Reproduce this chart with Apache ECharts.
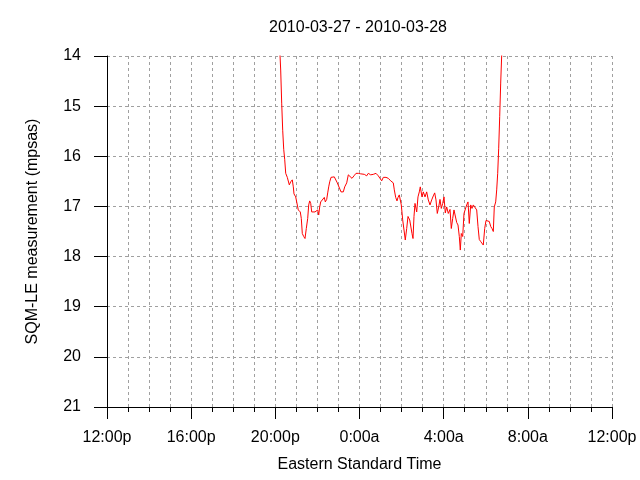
<!DOCTYPE html>
<html>
<head>
<meta charset="utf-8">
<script src="https://cdn.jsdelivr.net/npm/echarts@6/dist/echarts.min.js"></script>
<style>html,body{margin:0;padding:0;background:#fff;}#chart{width:640px;height:480px;}</style>
</head>
<body>
<div id="chart"></div>
<script>
// hours after 12:00p on 2010-03-27
const hours = [8.20,8.222,8.255,8.302,8.350,8.398,8.445,8.493,8.569,8.664,8.730,8.806,8.854,8.887,8.968,9.044,9.091,9.139,9.186,9.234,9.282,9.348,9.410,9.472,9.538,9.586,9.633,9.681,9.728,9.804,9.885,9.966,10.013,10.061,10.108,10.156,10.251,10.327,10.375,10.441,10.489,10.536,10.584,10.646,10.726,10.802,10.883,10.945,11.040,11.121,11.230,11.297,11.392,11.468,11.548,11.643,11.738,11.834,11.943,12.057,12.152,12.228,12.342,12.418,12.532,12.656,12.784,12.893,12.974,13.055,13.131,13.259,13.369,13.483,13.606,13.654,13.720,13.782,13.830,13.891,13.939,13.986,14.053,14.115,14.176,14.243,14.305,14.386,14.447,14.495,14.543,14.590,14.638,14.718,14.780,14.842,14.889,14.970,15.032,15.113,15.193,15.270,15.350,15.431,15.507,15.574,15.635,15.697,15.764,15.825,15.887,15.954,16.016,16.077,16.144,16.220,16.301,16.363,16.429,16.491,16.553,16.619,16.681,16.743,16.791,16.838,16.904,16.966,17.028,17.094,17.156,17.218,17.285,17.346,17.408,17.489,17.570,17.632,17.693,17.760,17.822,17.883,17.950,18.012,18.073,18.168,18.236,18.297,18.359,18.406,18.473,18.520,18.568,18.615,18.663,18.710,18.758,18.78];
const mpsas = [13.6,13.98,14.28,14.94,15.48,15.86,16.06,16.34,16.42,16.57,16.51,16.47,16.61,16.75,16.81,16.84,17.07,17.04,17.11,17.24,17.54,17.60,17.64,17.44,17.24,16.97,16.89,16.94,17.11,17.14,17.11,17.14,17.07,17.17,17.01,16.91,16.89,16.82,16.91,16.86,16.73,16.61,16.51,16.42,16.39,16.41,16.44,16.53,16.53,16.71,16.71,16.61,16.53,16.37,16.35,16.44,16.39,16.34,16.34,16.35,16.32,16.36,16.39,16.34,16.37,16.36,16.34,16.39,16.44,16.49,16.42,16.42,16.44,16.49,16.53,16.67,16.82,16.89,16.82,16.77,16.79,16.97,17.27,17.47,17.67,17.44,17.20,17.27,17.29,17.54,17.64,17.20,16.94,17.11,16.81,16.71,16.61,16.81,16.71,16.81,16.71,16.87,16.97,16.87,16.79,16.73,16.87,17.14,17.01,16.86,17.04,16.94,16.81,17.13,17.01,17.14,17.06,17.44,17.24,17.07,17.10,17.32,17.37,17.60,17.87,17.54,17.60,17.14,17.17,16.97,16.91,17.34,16.97,17.04,16.97,16.94,17.07,17.40,17.66,17.70,17.68,17.77,17.44,17.28,17.27,17.30,17.40,17.44,17.50,17.01,16.91,16.67,16.34,15.84,15.21,14.54,13.98,13.6];
const xTickLabels = ['12:00p','16:00p','20:00p','0:00a','4:00a','8:00a','12:00p'];
const titleText = '2010-03-27 - 2010-03-28';
const xName = 'Eastern Standard Time';
const yName = 'SQM-LE measurement (mpsas)';

const FONT = 'Liberation Sans';
const FS = 16;
const grid = {left:107, right:28, top:56, bottom:73};
const dotted = {color:'#a0a0a0', width:1, type:[3,3]};
const chart = echarts.init(document.getElementById('chart'), null, {renderer:'canvas'});
chart.setOption({
  animation:false,
  backgroundColor:'#ffffff',
  title:{text:titleText, left:353, top:15, textAlign:'center',
    textStyle:{fontFamily:FONT, fontSize:FS, fontWeight:'normal', color:'#000'}},
  grid:grid,
  xAxis:{type:'value', min:0, max:24, interval:4, splitNumber:6,
    name:xName, nameLocation:'middle', nameGap:50,
    nameTextStyle:{fontFamily:FONT, fontSize:FS, color:'#000'},
    axisLine:{show:true, onZero:false, lineStyle:{color:'#000', width:1}},
    axisTick:{show:true, length:12, lineStyle:{color:'#000'}},
    minorTick:{show:true, splitNumber:4, length:5, lineStyle:{color:'#000'}},
    axisLabel:{margin:23, fontFamily:FONT, fontSize:FS, color:'#000',
      formatter:v=>xTickLabels[Math.round(v/4)]},
    splitLine:{show:true, lineStyle:dotted},
    minorSplitLine:{show:true, lineStyle:dotted}},
  yAxis:{type:'value', min:14, max:21, interval:1, inverse:true,
    name:yName, nameLocation:'middle', nameGap:66, nameRotate:90,
    nameTextStyle:{fontFamily:FONT, fontSize:FS, color:'#000'},
    axisLine:{show:true, lineStyle:{color:'#000', width:1}},
    axisTick:{show:true, length:13, lineStyle:{color:'#000'}},
    axisLabel:{margin:26, fontFamily:FONT, fontSize:FS, color:'#000'},
    splitLine:{show:true, lineStyle:dotted}},
  series:[{type:'line', data:hours.map((h,i)=>[h,mpsas[i]]), showSymbol:false, symbol:'none',
    clip:true, lineStyle:{color:'#ff0000', width:1}, itemStyle:{color:'#ff0000'}}]
});
</script>
</body>
</html>
